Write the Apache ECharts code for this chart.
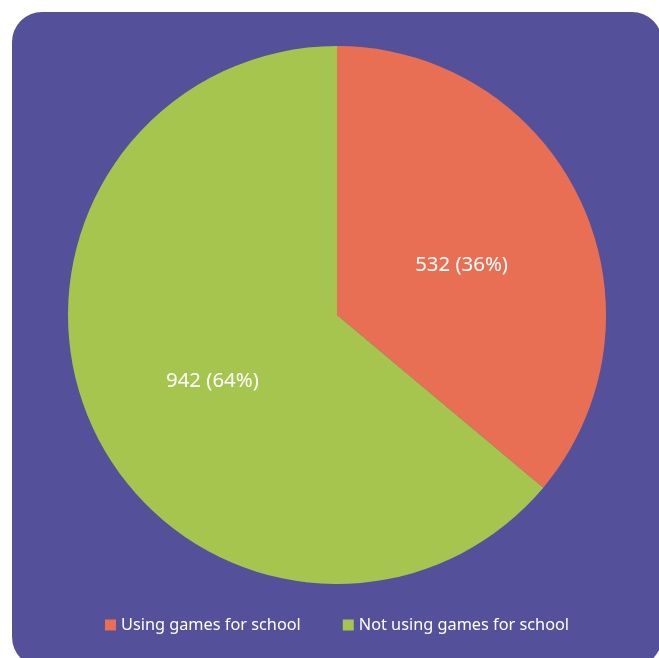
<!DOCTYPE html>
<html>
<head>
<meta charset="utf-8">
<style>
  html, body { margin: 0; padding: 0; background: #ffffff; }
  #chart { width: 659px; height: 658px; }
</style>
<script src="https://cdn.jsdelivr.net/npm/echarts@6/dist/echarts.min.js"></script>
</head>
<body>
<div id="chart"></div>
<script>
// Survey answers: how many respondents use games for school
const categories = ['Using games for school', 'Not using games for school'];
const counts = [532, 942];
const sliceColors = ['#e96f54', '#a6c54e'];

const total = counts.reduce((a, b) => a + b, 0);
const FONT = 'Noto Sans';

const chart = echarts.init(document.getElementById('chart'), null, { renderer: 'canvas' });

chart.setOption({
  animation: false,
  graphic: [{
    type: 'rect',
    z: -10,
    silent: true,
    shape: { x: 12, y: 12, width: 650, height: 655, r: 30 },
    style: { fill: '#54509a' }
  }],
  legend: {
    data: categories,
    top: 612,
    left: 100,
    itemWidth: 11,
    itemHeight: 11,
    itemGap: 42,
    icon: 'rect',
    textStyle: { color: '#ffffff', fontFamily: FONT, fontSize: 16.3 }
  },
  series: [{
    type: 'pie',
    center: [337, 315],
    radius: 269,
    startAngle: 90,
    clockwise: true,
    silent: true,
    data: categories.map((name, i) => ({
      name: name,
      value: counts[i],
      itemStyle: { color: sliceColors[i] }
    })),
    label: {
      position: 'inside',
      color: '#ffffff',
      fontFamily: FONT,
      fontSize: 20.4,
      offset: [0, 8],
      formatter: p => p.value + ' (' + Math.round(p.value / total * 100) + '%)'
    },
    labelLine: { show: false }
  }]
});
</script>
</body>
</html>
